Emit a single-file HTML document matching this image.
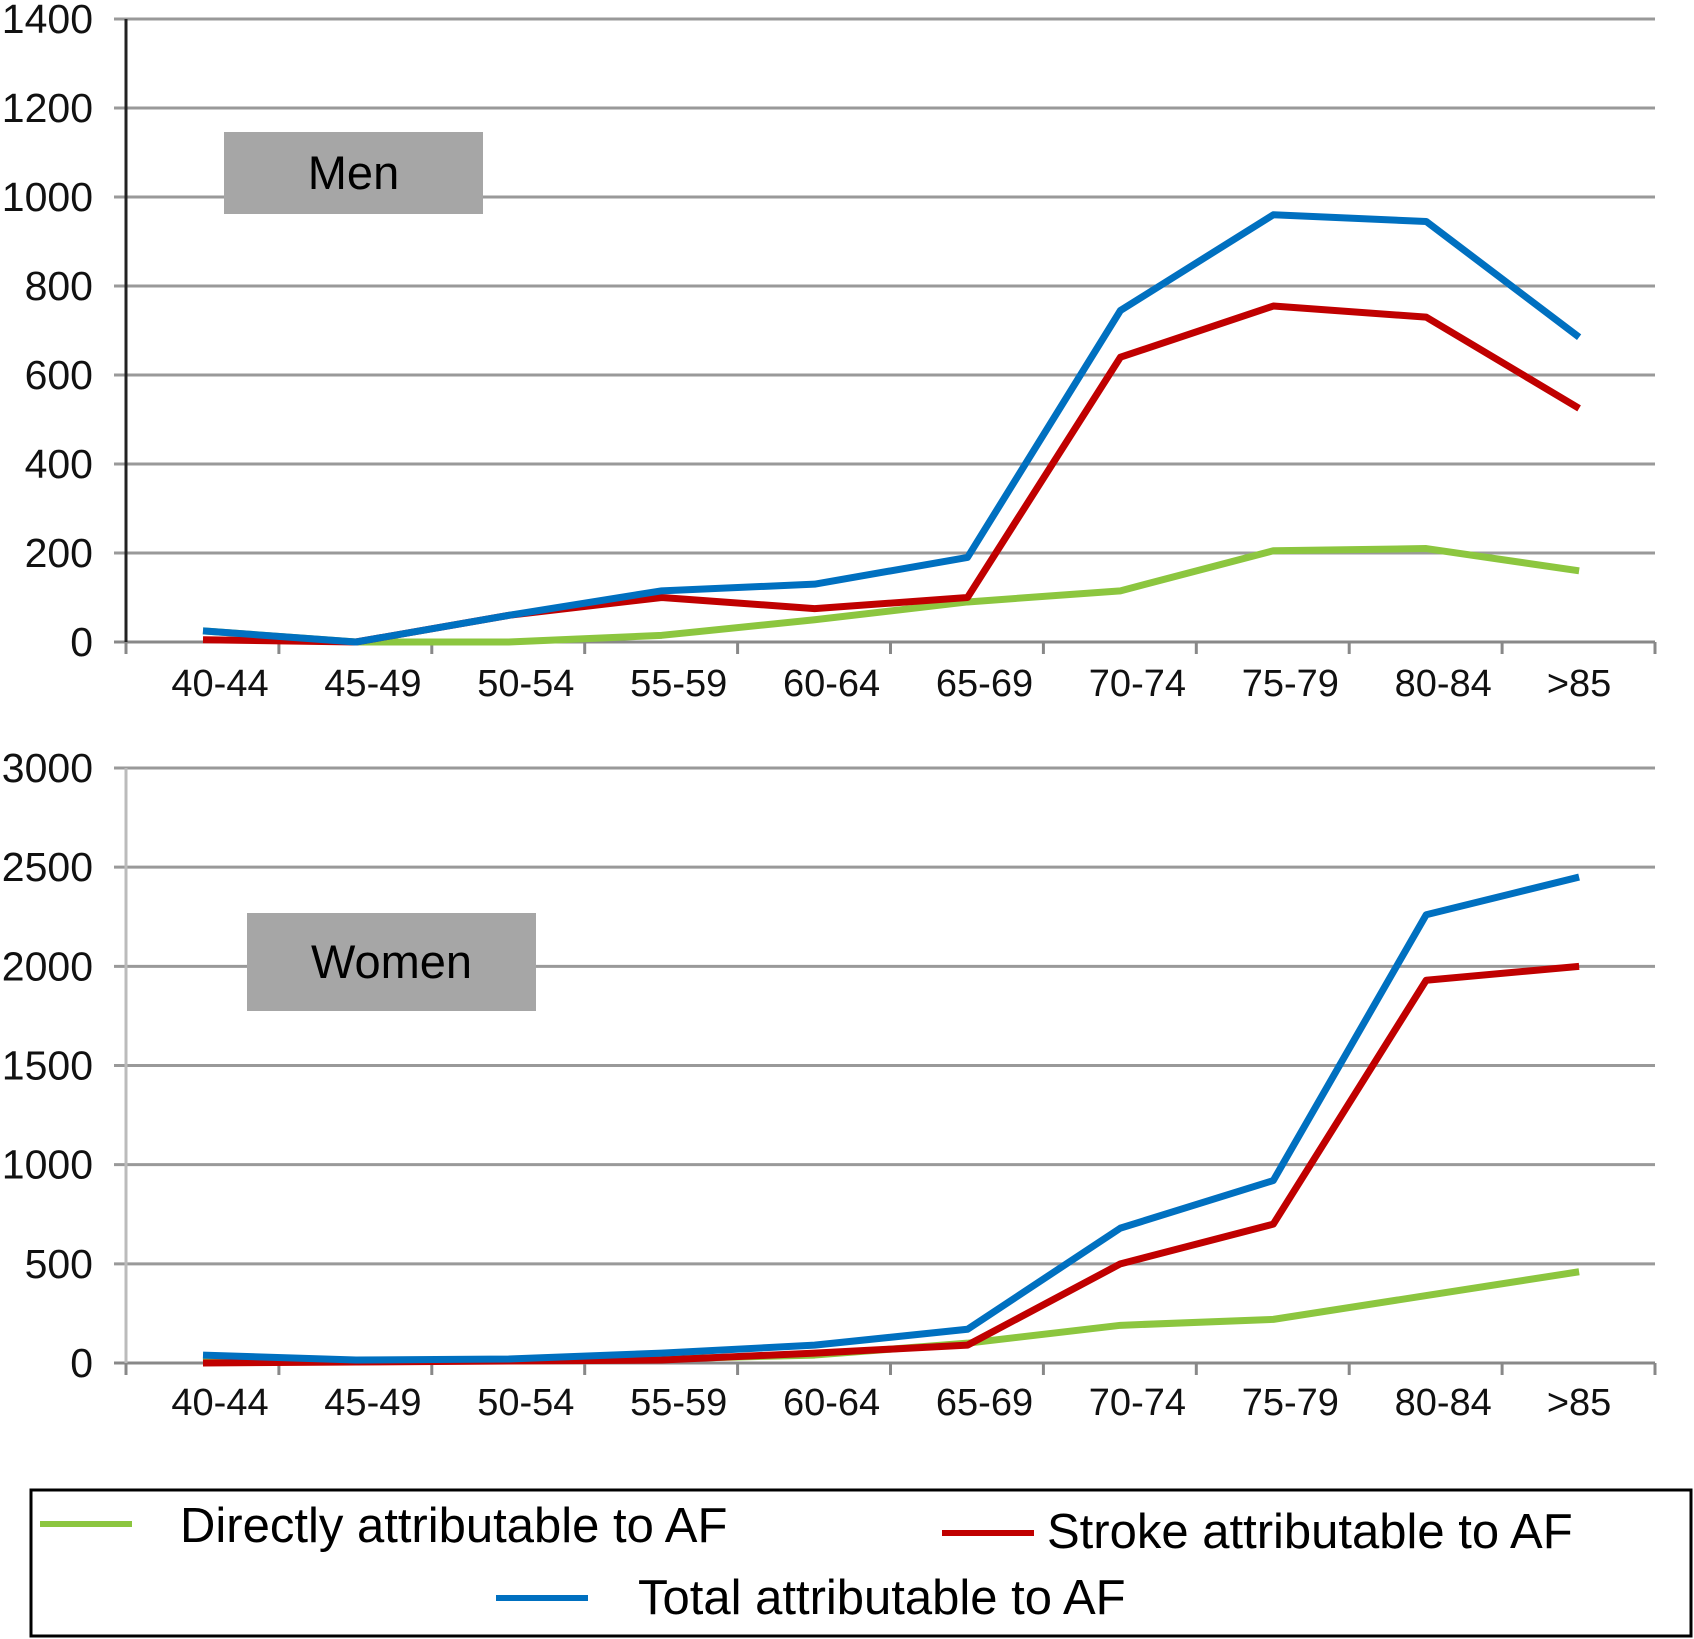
<!DOCTYPE html>
<html><head><meta charset="utf-8"><style>
body{margin:0;background:#fff;}
svg{display:block;font-family:"Liberation Sans",Arial,sans-serif;}
</style></head><body>
<svg id="c" width="1694" height="1639"></svg>
<script>
const categories=["40-44","45-49","50-54","55-59","60-64","65-69","70-74","75-79","80-84",">85"];
const menTicks=[0,200,400,600,800,1000,1200,1400];
const womenTicks=[0,500,1000,1500,2000,2500,3000];
const menDirect=[25,0,0,15,50,90,115,205,210,160];
const menStroke=[5,0,60,100,75,100,640,755,730,525];
const menTotal=[25,0,60,115,130,190,745,960,945,685];
const womenDirect=[30,10,10,20,40,100,190,220,340,460];
const womenStroke=[0,5,10,15,50,90,500,700,1930,2000];
const womenTotal=[40,15,20,50,90,170,680,920,2260,2450];
const NS="http://www.w3.org/2000/svg";
const svg=document.getElementById('c');
function mk(t,a,p){const e=document.createElementNS(NS,t);for(const k in a)e.setAttribute(k,a[k]);(p||svg).appendChild(e);return e;}
const x0=126,x1=1655,step=152.9,px0=203;
function xs(i){return px0+i*step;}
function panel(name,yTop,yBot,ticks,series,labelY,box,title){
  const g=mk('g',{});
  
  
  const max=ticks[ticks.length-1];
  const ys=v=>yBot-(v/max)*(yBot-yTop);
  ticks.forEach(t=>{
    const y=ys(t);
    const l=mk('line',{x1:x0-12,x2:x1,y1:y,y2:y,stroke:t===0?'#888':'#999','stroke-width':3},g);
    
    
    const tx=mk('text',{x:93,y:y+14,'text-anchor':'end','font-size':41,fill:'#111'},g);
    tx.textContent=t;
    
    
  });
  const ax=mk('line',{x1:x0,x2:x0,y1:yTop,y2:yBot,stroke:name==='men'?'#222':'#bbb','stroke-width':3},g);
  
  
  for(let i=0;i<=categories.length;i++){
    const x=x0+i*step;
    mk('line',{x1:x,x2:x,y1:yBot,y2:yBot+12,stroke:'#888','stroke-width':3},g);
  }
  categories.forEach((c,i)=>{
    const tx=mk('text',{x:i===9?xs(i):xs(i)+17,y:labelY,'text-anchor':'middle','font-size':38,fill:'#111'},g);
    tx.textContent=c;
    
    
  });
  series.forEach(s=>{
    const p=mk('polyline',{points:s.d.map((v,i)=>xs(i)+','+ys(v)).join(' '),fill:'none',stroke:s.c,'stroke-width':7,'stroke-linejoin':'round'},g);
    
    
  });
  const r=mk('rect',{x:box[0],y:box[1],width:box[2],height:box[3],fill:'#a6a6a6'},g);
  
  
  const t=mk('text',{x:box[0]+box[2]/2,y:box[1]+box[3]/2+16,'text-anchor':'middle','font-size':47,fill:'#000'},g);
  t.textContent=title;
  
  
}
panel('men',19,642,menTicks,[{n:'direct',c:'#8cc63f',d:menDirect},{n:'stroke',c:'#c00000',d:menStroke},{n:'total',c:'#0070c0',d:menTotal}],696,[224,132,259,82],'Men');
panel('women',768,1363,womenTicks,[{n:'direct',c:'#8cc63f',d:womenDirect},{n:'stroke',c:'#c00000',d:womenStroke},{n:'total',c:'#0070c0',d:womenTotal}],1415,[247,913,289,98],'Women');
const lg=mk('g',{});


mk('rect',{x:31,y:1490,width:1660,height:146,fill:'none',stroke:'#000','stroke-width':3},lg);
const items=[[40,1524,180,1542,'#8cc63f','Directly attributable to AF'],[942,1533,1047,1548,'#c00000','Stroke attributable to AF'],[496,1598,638,1614,'#0070c0','Total attributable to AF']];
items.forEach(it=>{
  const l=mk('line',{x1:it[0],x2:it[0]+92,y1:it[1],y2:it[1],stroke:it[4],'stroke-width':6},lg);
  
  
  const t=mk('text',{x:it[2],y:it[3],'font-size':49,fill:'#000'},lg);
  t.textContent=it[5];
  
  
});
</script>
</body></html>
